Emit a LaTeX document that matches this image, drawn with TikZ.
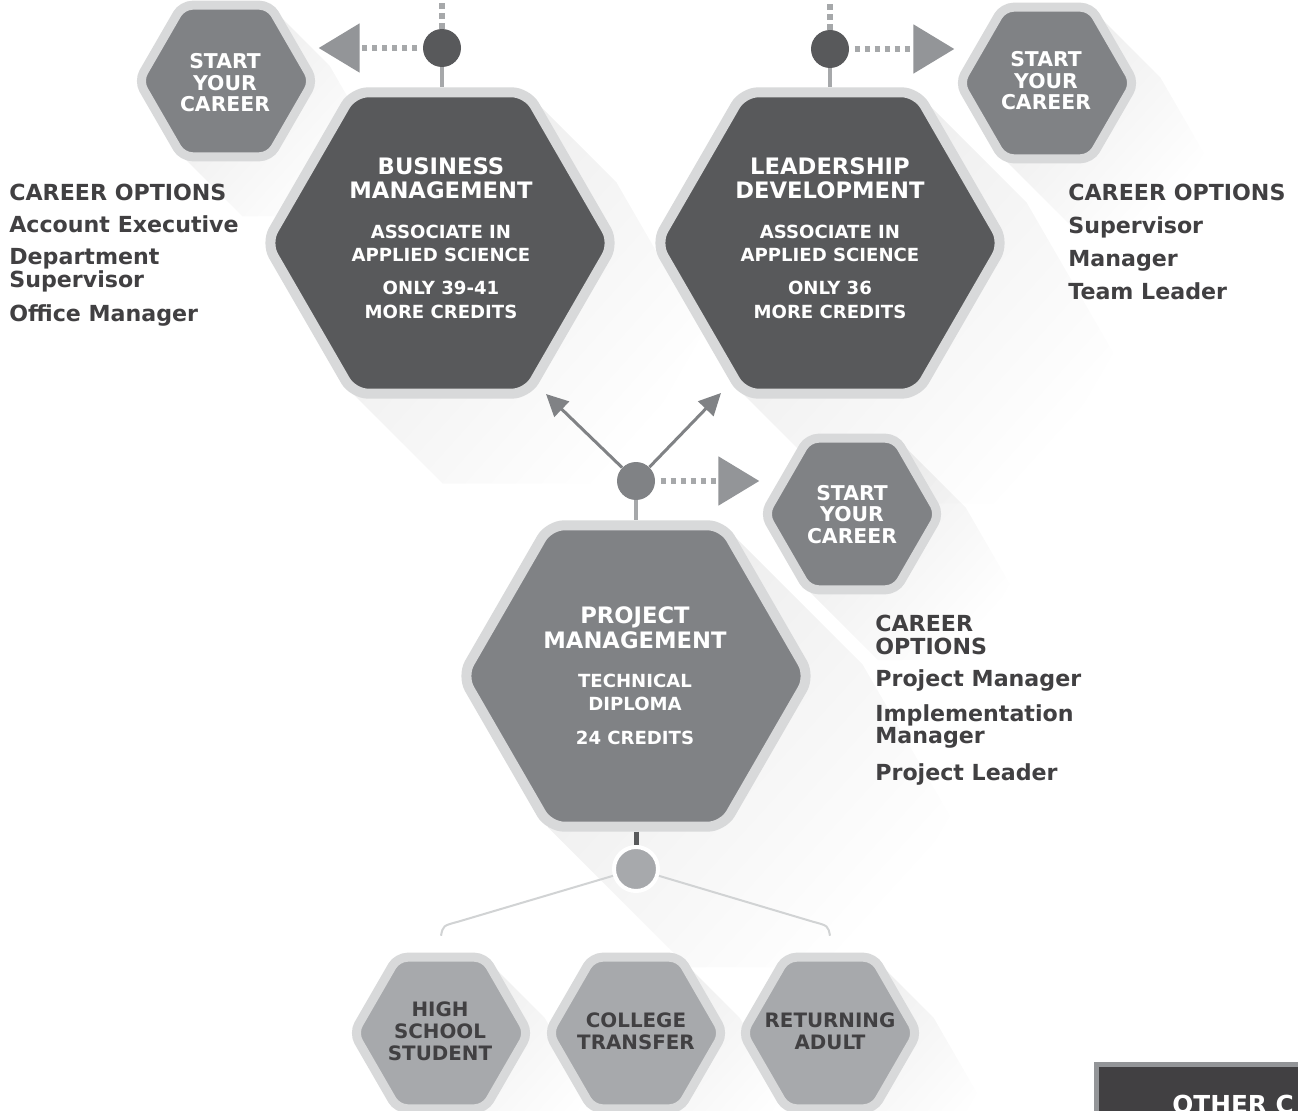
\documentclass[tikz,border=0pt]{standalone}
\usepackage{fontspec}
\setmainfont{DejaVu Sans}
\usetikzlibrary{shapes.geometric,arrows.meta,fadings,calc}
\definecolor{hexdark}{HTML}{58595B}
\definecolor{hexmid}{HTML}{808285}
\definecolor{hexlight}{HTML}{A7A9AC}
\definecolor{rim}{HTML}{D8D9DA}
\definecolor{txtdark}{HTML}{414042}
\definecolor{dotgray}{HTML}{A6A8AA}
\definecolor{arrowgray}{HTML}{939598}
\definecolor{diaggray}{HTML}{808285}
\definecolor{branchgray}{HTML}{D1D3D4}
\tikzfading[name=shadowfade, left color=transparent!0, right color=transparent!100]
\newcommand{\hexshadow}[4]{%
  \fill[black, opacity=0.08, path fading=shadowfade, fading angle=-45]
   ({#1+#3/2},{#2-0.866*#3}) -- ++(#4,#4) -- ({#1+#3+#4},{#2+#4})
   -- ({#1+#3/2+#4},{#2+0.866*#3+#4}) -- ({#1-#3/2+#4},{#2+0.866*#3+#4})
   -- ({#1-#3/2},{#2+0.866*#3}) -- cycle;}
\begin{document}
\begin{tikzpicture}[x=0.02cm, y=-0.02cm,
  hexbase/.style={regular polygon, regular polygon sides=6, inner sep=0pt, draw=rim},
  bighex/.style={hexbase, minimum size=6.96cm, line width=0.2cm, rounded corners=0.3cm},
  smallhex/.style={hexbase, minimum size=3.5cm, line width=0.18cm, rounded corners=0.2cm},
  hextitle/.style={anchor=base, align=center, text=white, font=\fontsize{12.9}{13.7}\selectfont\bfseries, inner sep=0pt},
  hexsub/.style={anchor=base, align=center, text=white, font=\fontsize{10.3}{13.4}\selectfont\bfseries, inner sep=0pt},
  starttext/.style={anchor=base, align=center, text=white, font=\fontsize{11.6}{12.3}\selectfont\bfseries, inner sep=0pt},
  entrytext/.style={anchor=base, align=center, text=txtdark, font=\fontsize{11.3}{12.3}\selectfont\bfseries, inner sep=0pt},
  careertext/.style={anchor=base west, align=left, text=txtdark, font=\fontsize{12.6}{13}\selectfont\bfseries, inner sep=0pt},
  hub/.style={circle, inner sep=0pt, minimum size=0.76cm},
  dotline/.style={draw=dotgray, line width=0.11cm, dash pattern=on 0.11cm off 0.09cm},
  dotarrow/.style={dotline, -{Triangle[length=0.82cm, width=0.96cm, color=arrowgray]}},
  stem/.style={draw=dotgray, line width=0.08cm},
  darkstem/.style={draw=hexdark, line width=0.1cm},
  diagarrow/.style={draw=diaggray, line width=0.06cm, -{Triangle[length=0.44cm, width=0.42cm]}},
  branch/.style={draw=branchgray, line width=0.04cm},
]
\useasboundingbox (0,0) rectangle (1298,1111);
\clip (0,0) rectangle (1298,1111);
\fill[white] (0,0) rectangle (1298,1111);

% shadows
\hexshadow{226}{81}{87}{60}
\hexshadow{1047}{83}{87}{70}
\hexshadow{440}{243}{174}{90}
\hexshadow{830}{243}{174}{110}
\hexshadow{852}{514}{88}{70}
\hexshadow{636}{676}{175}{140}
\hexshadow{441}{1033}{87}{60}
\hexshadow{636}{1033}{87}{60}
\hexshadow{830}{1033}{87}{60}

% hexagons
\node[smallhex, fill=hexmid] (sh1) at (226,81) {};
\node[smallhex, fill=hexmid] (sh2) at (1047,83) {};
\node[bighex, fill=hexdark] (bm) at (440,243) {};
\node[bighex, fill=hexdark] (ld) at (830,243) {};
\node[smallhex, fill=hexmid] (sh3) at (852,514) {};
\node[bighex, fill=hexmid] (pm) at (636,676) {};
\node[smallhex, fill=hexlight] (hs) at (441,1033) {};
\node[smallhex, fill=hexlight] (ct) at (636,1033) {};
\node[smallhex, fill=hexlight] (ra) at (830,1033) {};

% hubs
\node[hub, fill=hexdark] (h1) at (442,48) {};
\node[hub, fill=hexdark] (h2) at (830,49) {};
\node[hub, fill=hexmid] (h3) at (636,481) {};
\node[hub, fill=hexlight, draw=white, line width=0.08cm, minimum size=0.88cm] (h4) at (636,869) {};

% free ends
\coordinate (top1) at (442,-5);
\coordinate (top2) at (830,-5);
\coordinate (tipbm) at (546,394);
\coordinate (tipld) at (721,393);

% connectors
\draw[dotline] (h1) -- (top1);
\draw[dotline] (h2) -- (top2);
\draw[stem] (h1.south) -- (h1.south |- bm.north);
\draw[stem] (h2.south) -- (h2.south |- ld.north);
\draw[dotarrow, shorten <=3pt] (h1.west) -- (h1.west -| sh1.east);
\draw[dotarrow, shorten <=3pt] (h2.east) -- (h2.east -| sh2.west);
\draw[dotarrow, shorten <=3pt] (h3.east) -- (h3.east -| sh3.west);
\draw[stem] (h3.south) -- (h3.south |- pm.north);
\draw[diagarrow] (h3) -- (tipbm);
\draw[diagarrow] (h3) -- (tipld);
\draw[darkstem] (pm.south) -- (h4.north);
\draw[branch] (h4) -- ($(hs.north)+(17,-31)$) .. controls ($(hs.north)+(2,-27)$) .. ($(hs.north)+(0,-17)$);
\draw[branch] (h4) -- ($(ra.north)+(-17,-31)$) .. controls ($(ra.north)+(-2,-27)$) .. ($(ra.north)+(0,-17)$);

% hex texts (anchor = baseline of the last line)
\node[hextitle] (bmt) at (441,198.3) {BUSINESS\\MANAGEMENT};
\node[hexsub] (bms) at (441,318.3) {ASSOCIATE IN\\APPLIED SCIENCE\\[5.3pt]ONLY 39-41\\MORE CREDITS};
\node[hextitle] (ldt) at (830,198.3) {LEADERSHIP\\DEVELOPMENT};
\node[hexsub] (lds) at (830,318.3) {ASSOCIATE IN\\APPLIED SCIENCE\\[5.3pt]ONLY 36\\MORE CREDITS};
\node[hextitle] (pmt) at (635,648) {PROJECT\\MANAGEMENT};
\node[hexsub] (pms) at (635,744) {TECHNICAL\\DIPLOMA\\[5.5pt]24 CREDITS};

\node[starttext] (sh1t) at (225,111.7) {START\\YOUR\\CAREER};
\node[starttext] (sh2t) at (1046,110) {START\\YOUR\\CAREER};
\node[starttext] (sh3t) at (852,543.3) {START\\YOUR\\CAREER};

\node[entrytext] (hst) at (440,1060) {HIGH\\SCHOOL\\STUDENT};
\node[entrytext] (ctt) at (636,1049.3) {COLLEGE\\TRANSFER};
\node[entrytext] (rat) at (830,1049.3) {RETURNING\\ADULT};

% career options
\node[careertext] (co1) at (9,321.5) {CAREER OPTIONS\\[5.3pt]Account Executive\\[5.1pt]Department\\Supervisor\\[6.5pt]Office Manager};
\node[careertext] (co2) at (1068,300) {CAREER OPTIONS\\[5.9pt]Supervisor\\[5.9pt]Manager\\[5.9pt]Team Leader};
\node[careertext] (co3) at (875,780) {CAREER\\OPTIONS\\[5.5pt]Project Manager\\[6.6pt]Implementation\\Manager\\[7.5pt]Project Leader};

% other box
\fill[arrowgray] (1094,1062) rectangle (1320,1130);
\fill[txtdark] (1099,1067) rectangle (1320,1130);
\node[anchor=base west, text=white, font=\fontsize{14.1}{16}\selectfont\bfseries, inner sep=0pt] (oth) at (1172,1113) {OTHER C};
\end{tikzpicture}
\end{document}
